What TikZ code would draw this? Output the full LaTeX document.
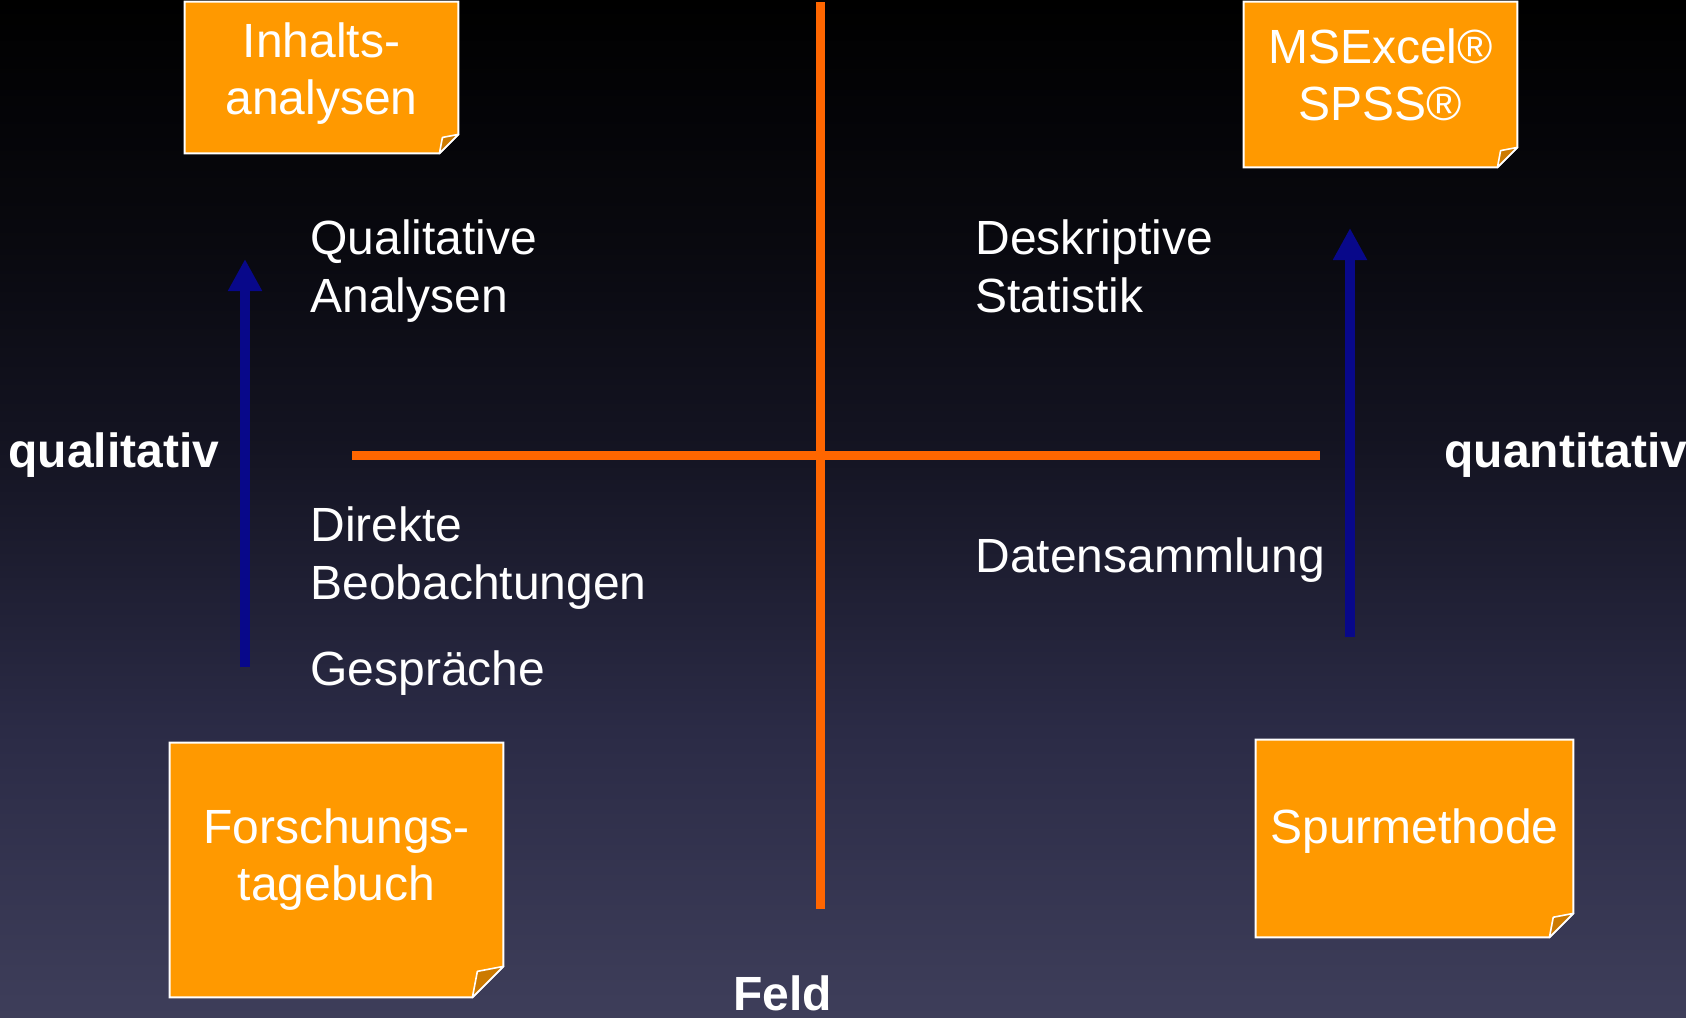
\documentclass[tikz,border=0pt]{standalone}
\usepackage{fontspec}
\setmainfont{Liberation Sans}
\usetikzlibrary{arrows.meta, calc, backgrounds}

\definecolor{noteorange}{RGB}{255,153,0}
\definecolor{curlorange}{RGB}{204,122,0}
\definecolor{crossorange}{RGB}{255,102,0}
\definecolor{arrownavy}{RGB}{8,8,138}

\pgfdeclareverticalshading{slidebg}{100bp}{rgb(0bp)=(0.243,0.243,0.353); rgb(25bp)=(0.243,0.243,0.353); rgb(39bp)=(0.169,0.169,0.275); rgb(53bp)=(0.078,0.078,0.133); rgb(63bp)=(0.035,0.035,0.059); rgb(75bp)=(0,0,0); rgb(100bp)=(0,0,0)}

\tikzset{
  slidetext/.style={text=white, inner sep=0pt, font=\fontsize{24}{29}\selectfont},
  axislabel/.style={text=white, inner sep=0pt, font=\fontsize{24}{29}\selectfont\bfseries},
  note/.style={text=white, inner sep=0pt, align=center, font=\fontsize{24}{28.5}\selectfont},
  notefill/.style={fill=noteorange, draw=white, line width=1pt},
  foldcorner/.style={fill=curlorange, draw=white, line width=0.8pt, line join=round},
  crossline/.style={crossorange, line width=4.5pt},
  updir/.style={arrownavy, line width=5pt, -{Triangle[width=16pt,length=16pt]}},
}

% sticky note outline with the cut corner, and its curl
\newcommand\stickynote[2]{%
  \filldraw[notefill] (#1.north west) -- (#1.north east) -- ($(#1.south east)+(0,-#2)$) -- ($(#1.south east)+(-#2,0)$) -- (#1.south west) -- cycle;}
\newcommand\notecurl[2]{%
  \filldraw[foldcorner] ($(#1.south east)+(-#2,0)$) -- ($(#1.south east)+(-0.84*#2,-0.84*#2)$) -- ($(#1.south east)+(0,-#2)$) -- cycle;}

\begin{document}
\begin{tikzpicture}[x=0.5pt, y=-0.5pt]
\useasboundingbox (0,0) rectangle (1686,1017);

% the cross
\coordinate (vtop) at (820.5,2);
\coordinate (vbot) at (820.5,909);
\coordinate (hleft) at (352,455.5);
\coordinate (hright) at (1320,455.5);
\draw [crossline] (vtop) -- (vbot);
\draw [crossline] (hleft) -- (hright);

% arrows
\coordinate (qlfoot) at (245,667);
\coordinate (qlhead) at (245,259);
\coordinate (qnfoot) at (1350,637);
\coordinate (qnhead) at (1350,228);
\draw [updir] (qlfoot) -- (qlhead);
\draw [updir] (qnfoot) -- (qnhead);

% notes
\node (inhalt) at (321.5,77.5) [note, minimum width=136.5pt, minimum height=75.5pt, text height=48.5pt, text depth=12pt] {Inhalts-\\analysen};
\node (excel) at (1380.5,84.5) [note, minimum width=136.5pt, minimum height=82.5pt, text height=48.5pt, text depth=13pt] {MSExcel®\\SPSS®};
\node (tagebuch) at (336.5,870) [note, minimum width=166.5pt, minimum height=127pt, text height=48.5pt, text depth=18.5pt] {Forschungs-\\tagebuch};
\node (spur) at (1414.5,838.5) [note, minimum width=158.5pt, minimum height=98.5pt, text height=20pt, text depth=15.5pt] {Spurmethode};

\begin{scope}[on background layer]
\shade [shading=slidebg] (0,0) rectangle (1686,1017);
\stickynote{inhalt}{19}
\stickynote{excel}{20}
\stickynote{tagebuch}{31}
\stickynote{spur}{24}
\end{scope}
\notecurl{inhalt}{19}
\notecurl{excel}{20}
\notecurl{tagebuch}{31}
\notecurl{spur}{24}

% texts
\node (qualan) at (310,312) [slidetext, anchor=base west, align=left] {Qualitative\\Analysen};
\node (deskst) at (975,312) [slidetext, anchor=base west, align=left] {Deskriptive\\Statistik};
\node (direkt) at (310,599) [slidetext, anchor=base west, align=left] {Direkte\\Beobachtungen};
\node (gespr) at (310,685) [slidetext, anchor=base west] {Gespräche};
\node (datsam) at (975,572) [slidetext, anchor=base west] {Datensammlung};
\node (qual) at (8,467) [axislabel, anchor=base west] {qualitativ};
\node (quant) at (1444,467) [axislabel, anchor=base west] {quantitativ};
\node (feld) at (733,1010) [axislabel, anchor=base west] {Feld};
\end{tikzpicture}
\end{document}
